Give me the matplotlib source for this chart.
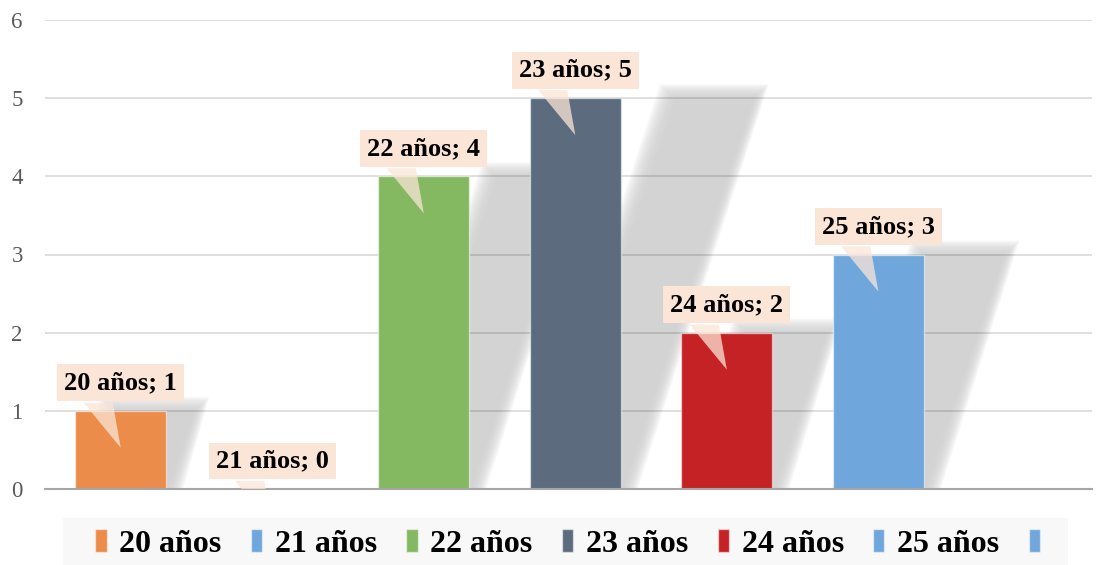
import matplotlib
matplotlib.use('Agg')
import matplotlib.pyplot as plt
import matplotlib.transforms as mtransforms
from matplotlib.patches import Polygon, Patch, Rectangle
import numpy as np

# datos
categorias = ['20 años', '21 años', '22 años', '23 años', '24 años', '25 años', '']
valores = [1, 0, 4, 5, 2, 3, np.nan]
colores = ['#EB8C4B', '#6FA7DC', '#84B962', '#5D6B7F', '#C42224', '#6FA7DC', '#6FA7DC']
yticks = [0, 1, 2, 3, 4, 5, 6]

W, H = 1099, 565
fig = plt.figure(figsize=(W / 100, H / 100), dpi=100)
ax = fig.add_axes([45 / W, (H - 489) / H, (1092 - 45) / W, (489 - 20) / H])

x = np.arange(len(categorias))
ancho = 0.6
ax.set_xlim(-0.5, 6.41)
ax.set_ylim(0, 6)
ax.set_yticks(yticks)
ax.set_xticks([])
ax.tick_params(axis='y', length=0, pad=16, labelsize=16.5, labelcolor='#595959')
for t in ax.get_yticklabels():
    t.set_family('Liberation Serif')
for s in ['top', 'right', 'left']:
    ax.spines[s].set_visible(False)
ax.spines['bottom'].set_color('#a6a6a6')
ax.spines['bottom'].set_linewidth(1.5)
ax.set_axisbelow(True)
ax.grid(axis='y', color='black', alpha=0.15, linewidth=1.2)

barras = ax.bar(x, valores, width=ancho, color=colores, zorder=2,
                edgecolor=(1, 1, 1, 0.5), linewidth=1)

# sombras en perspectiva (pixeles)
fig.canvas.draw()
td = ax.transData
inv = td.inverted()
for xi, v in zip(x, valores):
    if np.isnan(v) or v == 0:
        continue
    (L, B) = td.transform((xi - ancho / 2, 0))
    (R, T) = td.transform((xi + ancho / 2, v))
    h = T - B
    sh = 0.335 * h
    for e in np.linspace(9, -7, 16):
        pts = [(L + 8 - e, B), (R + 8 + e, B),
               (R + 8 + sh + e, T + 5 + e), (L + 8 + sh - e, T + 5 + e)]
        pts = inv.transform(pts)
        ax.add_patch(Polygon(pts, closed=True, facecolor='#d0d0d0', alpha=0.12,
                             edgecolor='none', zorder=0.3))

# etiquetas con globo
for xi, v, cat in zip(x, valores, categorias):
    if np.isnan(v):
        continue
    off = mtransforms.ScaledTranslation(xi, v, td)
    tr = fig.dpi_scale_trans + off
    ptr = np.array([(-37, 8), (-8, 8), (0, -37)]) / 100
    ax.add_patch(Polygon(ptr, closed=True, transform=tr, facecolor='#fbe5d6',
                         alpha=0.75, edgecolor='none', zorder=3))
    ax.annotate(f'{cat}; {v:g}', (xi, v), xytext=(0, 28 * 0.72), textcoords='offset points',
                ha='center', va='center', fontsize=19, fontweight='bold',
                family='Liberation Serif', zorder=4,
                bbox=dict(boxstyle='square,pad=0.26', facecolor='#fbe5d6', edgecolor='none'))

# leyenda
fig.patches.append(Rectangle((63 / W, 0), 1005 / W, 47 / H, transform=fig.transFigure,
                             facecolor='#f8f8f8', edgecolor='none', zorder=0))
manijas = [Patch(facecolor=c, edgecolor=(1, 1, 1, 0.5)) for c in colores]
fig.legend(manijas, categorias, loc='center left', ncol=7,
           bbox_to_anchor=(89 / W, 21 / H),
           frameon=False,
           prop=dict(family='Liberation Serif', weight='bold', size=23),
           handlelength=0.35, handleheight=0.7, handletextpad=0.4,
           columnspacing=0.92, borderpad=0.2, borderaxespad=0)

fig.savefig('out.png', dpi=100)
